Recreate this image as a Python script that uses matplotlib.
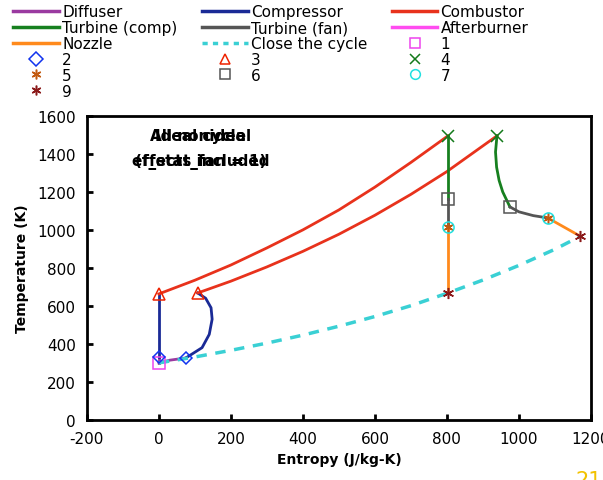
import numpy as np
import matplotlib
matplotlib.use('Agg')
import matplotlib.pyplot as plt
from matplotlib.lines import Line2D

plt.rcParams['axes.unicode_minus'] = False

# ---- data (s in J/kg-K, T in K) ----
# ideal cycle
ideal_diff_s = [0, 0]
ideal_diff_T = [300, 332]
ideal_comp_s = [0, 0]
ideal_comp_T = [332, 663]
ideal_comb_s = [0, 100, 200, 300, 400, 500, 600, 700, 803]
ideal_comb_T = [663, 735, 815, 905, 1000, 1105, 1225, 1355, 1495]
ideal_turbc_s = [803, 803]
ideal_turbc_T = [1495, 1163]
ideal_turbf_s = [803, 803]
ideal_turbf_T = [1163, 1016]
ideal_noz_s = [803, 803]
ideal_noz_T = [1016, 668]

# all nonideal effects
real_diff_s = [0, 30, 75]
real_diff_T = [300, 314, 326]
real_comp_s = [75, 120, 140, 148, 145, 130, 108]
real_comp_T = [326, 380, 450, 530, 590, 640, 668]
real_comb_s = [108, 200, 300, 400, 500, 600, 700, 800, 939]
real_comb_T = [668, 730, 805, 887, 977, 1077, 1187, 1307, 1495]
real_turbc_s = [939, 935, 938, 945, 955, 975]
real_turbc_T = [1495, 1410, 1330, 1260, 1200, 1121]
real_turbf_s = [975, 1000, 1040, 1080]
real_turbf_T = [1121, 1095, 1075, 1063]
real_noz_s = [1080, 1125, 1169]
real_noz_T = [1063, 1015, 968]

# ambient isobar closing both cycles
close_s = [0, 100, 200, 300, 400, 500, 600, 700, 803, 900, 1000, 1100, 1169]
close_T = [300, 331, 366, 404, 446, 493, 544, 601, 668, 736, 813, 898, 965]

# station points
st1_s, st1_T = [0], [300]
st2_s, st2_T = [0, 75], [332, 326]
st3_s, st3_T = [0, 108], [663, 668]
st4_s, st4_T = [803, 939], [1495, 1495]
st5_s, st5_T = [803, 1080], [1016, 1063]
st6_s, st6_T = [803, 975], [1163, 1121]
st7_s, st7_T = [803, 1080], [1016, 1063]
st9_s, st9_T = [803, 1169], [668, 968]

c_diff = '#9a3aa0'
c_comp = '#1a2a96'
c_comb = '#e8321c'
c_turbc = '#17801f'
c_turbf = '#555555'
c_ab = '#ff4cf0'
c_noz = '#ff8a1c'
c_close = '#3ad0d4'

fig = plt.figure(figsize=(6.03, 4.81), dpi=100)
ax = fig.add_axes([0.144, 0.125, 0.836, 0.632])

lw = 2.0
ax.plot(ideal_diff_s, ideal_diff_T, color=c_diff, lw=lw)
ax.plot(real_diff_s, real_diff_T, color=c_diff, lw=lw)
ax.plot(ideal_comp_s, ideal_comp_T, color=c_comp, lw=lw)
ax.plot(real_comp_s, real_comp_T, color=c_comp, lw=lw)
ax.plot(ideal_comb_s, ideal_comb_T, color=c_comb, lw=lw)
ax.plot(real_comb_s, real_comb_T, color=c_comb, lw=lw)
ax.plot(ideal_turbc_s, ideal_turbc_T, color=c_turbc, lw=lw)
ax.plot(real_turbc_s, real_turbc_T, color=c_turbc, lw=lw)
ax.plot(ideal_turbf_s, ideal_turbf_T, color=c_turbf, lw=lw)
ax.plot(real_turbf_s, real_turbf_T, color=c_turbf, lw=lw)
ax.plot(ideal_noz_s, ideal_noz_T, color=c_noz, lw=lw)
ax.plot(real_noz_s, real_noz_T, color=c_noz, lw=lw)
ax.plot(close_s, close_T, color=c_close, lw=2.5, ls=(0, (3, 2.5)))

ast = (6, 2, 0)
mk = dict(ms=8, ls='none', mfc='none', mew=1.1)
ax.plot(st1_s, st1_T, marker='s', color='#ee44ee', **mk)
ax.plot(st2_s, st2_T, marker='D', color='#1133ee', ms=6, ls='none', mfc='none', mew=1.1)
ax.plot(st3_s, st3_T, marker='^', color='#ee2200', **mk)
ax.plot(st4_s, st4_T, marker='x', color='#137a1b', **mk)
ax.plot(st5_s, st5_T, marker=ast, color='#c25a10', **mk)
ax.plot(st6_s, st6_T, marker='s', color='#555555', **mk)
ax.plot(st7_s, st7_T, marker='o', color='#22e0e0', **mk)
ax.plot(st9_s, st9_T, marker=ast, color='#8b1a1a', **mk)

# two annotations printed on top of each other, as in the reference
ax.text(115, 1495, 'All nonideal', ha='center', va='center', fontsize=11, fontweight='bold')
ax.text(115, 1495, 'Ideal cycle', ha='center', va='center', fontsize=11, fontweight='bold')
ax.text(115, 1365, 'effects included', ha='center', va='center', fontsize=11, fontweight='bold')
ax.text(115, 1365, '(f_stat_fan = 1)', ha='center', va='center', fontsize=11, fontweight='bold')

ax.set_xlim(-200, 1200)
ax.set_ylim(0, 1600)
ax.set_xticks(np.arange(-200, 1201, 200))
ax.set_yticks(np.arange(0, 1601, 200))
ax.tick_params(direction='in', length=4, width=2, labelsize=11, pad=8)
for sp in ax.spines.values():
    sp.set_linewidth(2)
ax.set_xlabel('Entropy (J/kg-K)', fontsize=10, fontweight='bold', labelpad=4)
ax.set_ylabel('Temperature (K)', fontsize=10, fontweight='bold', labelpad=6)

# legend, filled row by row as in the reference
def ln(c, ls='-'):
    return Line2D([], [], color=c, lw=2.5, ls=ls)

def mkh(m, c):
    return Line2D([], [], marker=m, color=c, ls='none', mfc='none', ms=7, mew=1.1)

col1 = [(ln(c_diff), 'Diffuser'), (ln(c_turbc), 'Turbine (comp)'), (ln(c_noz), 'Nozzle'),
        (mkh('D', '#1133ee'), '2'), (mkh(ast, '#c25a10'), '5'), (mkh(ast, '#8b1a1a'), '9')]
col2 = [(ln(c_comp), 'Compressor'), (ln(c_turbf), 'Turbine (fan)'),
        (ln(c_close, (0, (1.5, 1.5))), 'Close the cycle'),
        (mkh('^', '#ee2200'), '3'), (mkh('s', '#555555'), '6')]
col3 = [(ln(c_comb), 'Combustor'), (ln(c_ab), 'Afterburner'), (mkh('s', '#ee44ee'), '1'),
        (mkh('x', '#137a1b'), '4'), (mkh('o', '#22e0e0'), '7')]
items = col1 + col2 + col3
fig.legend([h for h, _ in items], [l for _, l in items], ncol=3,
           loc='upper left', bbox_to_anchor=(0.012, 1.002), frameon=False,
           fontsize=11, handlelength=3.0, handletextpad=0.2, labelspacing=0.06,
           columnspacing=1.6, borderaxespad=0.0)

fig.text(0.955, -0.012, '21', color='#f2c200', fontsize=15)

plt.savefig('out.png', dpi=100)
